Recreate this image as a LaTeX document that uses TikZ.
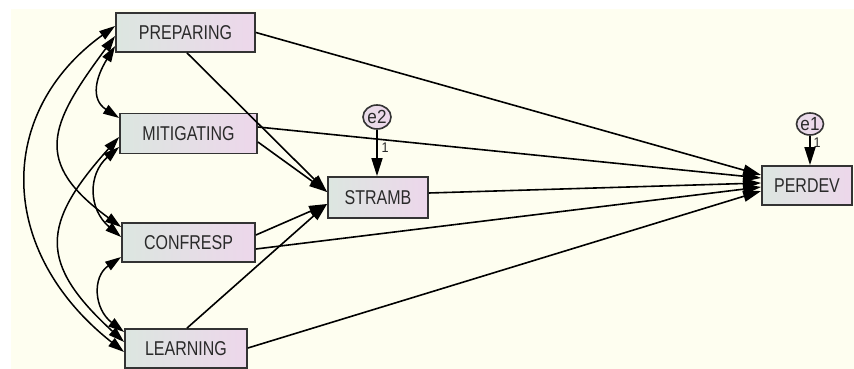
\documentclass[tikz,border=0pt]{standalone}
\usepackage{fontspec}
\setmainfont{Liberation Sans}[FakeStretch=0.8]
\newfontfamily\efont{Liberation Sans}[FakeStretch=0.9]
\usetikzlibrary{arrows.meta,shapes.geometric}
\definecolor{bgcol}{HTML}{FEFEF0}
\definecolor{boxL}{HTML}{DCE6E0}
\definecolor{boxR}{HTML}{EDD7EB}
\definecolor{edgecol}{HTML}{333333}
\definecolor{txt}{HTML}{2A2A2A}
\begin{document}
\begin{tikzpicture}[x=1pt,y=1pt,
  var/.style={draw=edgecol, line width=1.8pt, left color=boxL, right color=boxR,
    rectangle, inner sep=0pt, text=txt, font=\fontsize{20}{22}\selectfont},
  err/.style={draw=edgecol, line width=1.6pt, left color=boxL!30!boxR, right color=boxR,
    ellipse, inner sep=0pt},
  elab/.style={text=txt, font=\efont\fontsize{19}{20}\selectfont, inner sep=0pt},
  onelab/.style={text=txt, font=\efont\fontsize{14}{15}\selectfont, inner sep=0pt},
  reg/.style={-{Triangle[length=18pt,width=11pt]}, line width=1.6pt, draw=black},
  cov/.style={{Triangle[length=16pt,width=10pt]}-{Triangle[length=16pt,width=10pt]}, line width=1.5pt, draw=black}
]
\useasboundingbox (0,0) rectangle (854,369);
\fill[bgcol] (11,0) rectangle (854,360);

\node[var, minimum width=139, minimum height=39] (prep) at (185.5,336.5) {PREPARING};
\node[var, minimum width=137, minimum height=40] (mit) at (188.5,235.5) {MITIGATING};
\node[var, minimum width=133, minimum height=39] (conf) at (188.5,126.5) {CONFRESP};
\node[var, minimum width=122, minimum height=39] (learn) at (186,20.5) {LEARNING};
\node[var, minimum width=100, minimum height=41] (stramb) at (378,171.5) {STRAMB};
\node[var, minimum width=90, minimum height=39] (perdev) at (807,183.5) {PERDEV};
\node[err, minimum width=28, minimum height=24, label={[elab]center:e2}] (e2) at (377,252) {};
\node[err, minimum width=27, minimum height=22, label={[elab]center:e1}] (e1) at (810,245) {};

% regression paths
\draw[reg] ([xshift=1.5]prep.south) -- ([yshift=5.5]stramb.west);
\draw[reg] ([yshift=-8.5]mit.east) -- ([yshift=5.5]stramb.west);
\draw[reg] ([yshift=7.5]conf.east) -- ([yshift=-6.5]stramb.west);
\draw[reg] ([xshift=1]learn.north) -- ([yshift=-6.5]stramb.west);
\draw[reg] (prep.east) -- ([yshift=10.5]perdev.west);
\draw[reg] ([yshift=6.5]mit.east) -- ([yshift=7.5]perdev.west);
\draw[reg] ([yshift=4.5]stramb.east) -- ([yshift=2.5]perdev.west);
\draw[reg] ([yshift=-6.5]conf.east) -- ([yshift=-1.5]perdev.west);
\draw[reg] ([yshift=0.5]learn.east) -- ([yshift=-5.5]perdev.west);
\draw[reg] (e2.south) -- (e2.south |- stramb.north);
\draw[reg] (e1.south) -- (e1.south |- perdev.north);
\node[onelab] (one2) at (385,221) {1};
\node[onelab] (one1) at (817,226) {1};

% covariances
\draw[cov] ([yshift=6.5]prep.west) .. controls (-4,257) and (-4,118) .. ([yshift=-3.5]learn.west);
\draw[cov] ([yshift=-3.5]prep.west) .. controls (49,244) and (32,207) .. ([yshift=15.5]conf.west);
\draw[cov] ([yshift=-13.5]prep.west) .. controls (96,292) and (90,270) .. ([yshift=15.5]mit.west);
\draw[cov] ([yshift=-3.5]mit.west) .. controls (41,145) and (38,106) .. ([yshift=6.5]learn.west);
\draw[cov] ([yshift=-13.5]mit.west) .. controls (88,195) and (88,160) .. ([yshift=5.5]conf.west);
\draw[cov] ([yshift=-14.5]conf.west) .. controls (92,92) and (94,60) .. ([yshift=16.5]learn.west);
\end{tikzpicture}
\end{document}
